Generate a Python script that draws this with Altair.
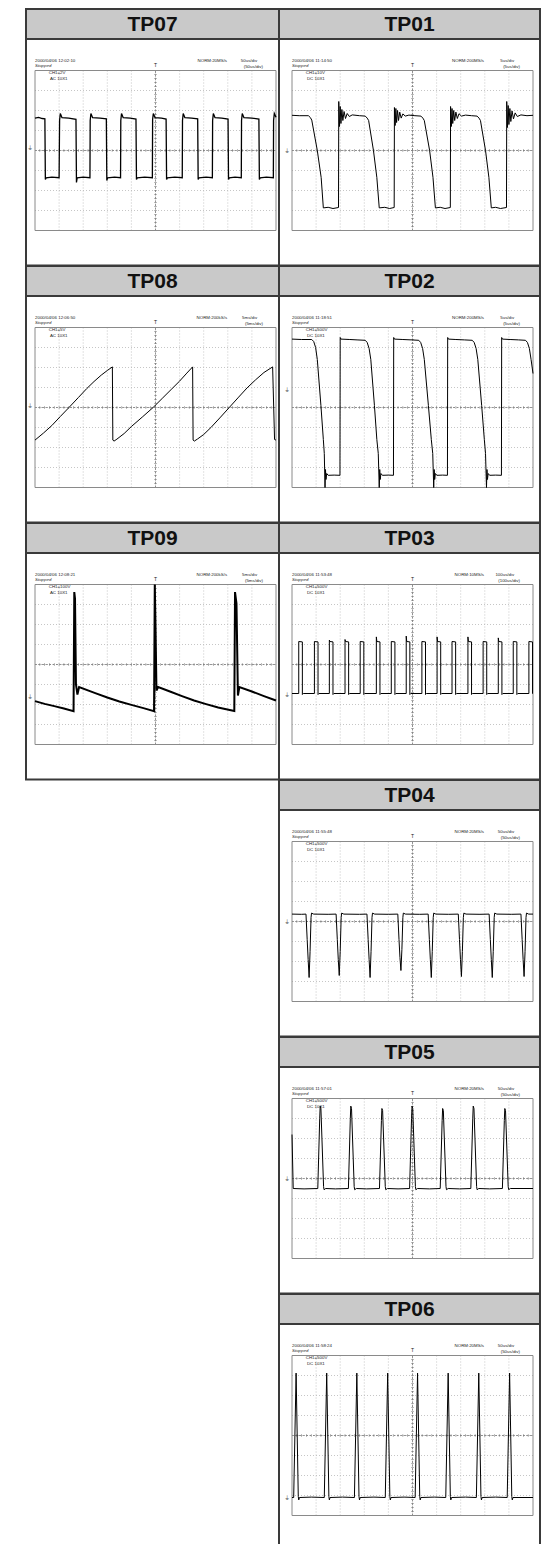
import altair as alt
import pandas as pd

# ---------------- data ----------------
left_names = ["TP07", "TP08", "TP09"]
right_names = ["TP01", "TP02", "TP03", "TP04", "TP05", "TP06"]

timestamps = {
    "TP07": "2000/04/06  12:02:10", "TP08": "2000/04/06  12:06:50", "TP09": "2000/04/06  12:08:21",
    "TP01": "2000/04/06  11:14:50", "TP02": "2000/04/06  11:18:51", "TP03": "2000/04/06  11:53:48",
    "TP04": "2000/04/06  11:55:48", "TP05": "2000/04/06  11:57:01", "TP06": "2000/04/06  11:58:24",
}
sample_rates = {
    "TP07": "NORM:20MS/s", "TP08": "NORM:200kS/s", "TP09": "NORM:200kS/s",
    "TP01": "NORM:200MS/s", "TP02": "NORM:200MS/s", "TP03": "NORM:10MS/s",
    "TP04": "NORM:20MS/s", "TP05": "NORM:20MS/s", "TP06": "NORM:20MS/s",
}
timebases = {
    "TP07": "50us/div", "TP08": "5ms/div", "TP09": "5ms/div",
    "TP01": "5us/div", "TP02": "5us/div", "TP03": "100us/div",
    "TP04": "50us/div", "TP05": "50us/div", "TP06": "50us/div",
}
channels = {
    "TP07": "CH1=2V", "TP08": "CH1=5V", "TP09": "CH1=100V",
    "TP01": "CH1=10V", "TP02": "CH1=500V", "TP03": "CH1=500V",
    "TP04": "CH1=500V", "TP05": "CH1=500V", "TP06": "CH1=500V",
}
couplings = {
    "TP07": "AC  10X1", "TP08": "AC  10X1", "TP09": "AC  10X1",
    "TP01": "DC  10X1", "TP02": "DC  10X1", "TP03": "DC  10X1",
    "TP04": "DC  10X1", "TP05": "DC  10X1", "TP06": "DC  10X1",
}
ground_levels = {
    "TP07": 0.15, "TP08": 0.1, "TP09": -1.6, "TP01": 0.0, "TP02": 0.9,
    "TP03": -1.5, "TP04": -0.03, "TP05": 0.0, "TP06": -3.1,
}

# waveforms: (time in divisions 0..10, level in divisions -4..4)
tp07 = [(0.00, 1.62), (0.15, 1.66), (0.30, 1.60), (0.41, 1.58),
        (0.43, -1.45), (0.46, -1.37), (0.70, -1.33), (1.00, -1.36),
        (1.02, 1.50), (1.05, 1.85), (1.12, 1.64), (1.40, 1.62), (1.70, 1.56),
        (1.72, -1.60), (1.75, -1.37), (2.00, -1.33), (2.28, -1.36),
        (2.29, 1.50), (2.32, 1.85), (2.39, 1.64), (2.70, 1.62), (2.96, 1.58),
        (2.98, -1.50), (3.01, -1.37), (3.30, -1.33), (3.55, -1.36),
        (3.56, 1.50), (3.59, 1.85), (3.66, 1.64), (3.95, 1.62), (4.19, 1.57),
        (4.21, -1.45), (4.24, -1.37), (4.55, -1.33), (4.87, -1.36),
        (4.88, 1.55), (4.91, 1.85), (4.98, 1.64), (5.25, 1.62), (5.44, 1.57),
        (5.46, -1.45), (5.49, -1.37), (5.80, -1.33), (6.11, -1.36),
        (6.12, 1.50), (6.15, 1.85), (6.22, 1.64), (6.50, 1.62), (6.75, 1.58),
        (6.77, -1.45), (6.80, -1.37), (7.10, -1.33), (7.36, -1.36),
        (7.37, 1.50), (7.40, 1.85), (7.47, 1.64), (7.75, 1.62), (8.01, 1.57),
        (8.03, -1.45), (8.06, -1.37), (8.30, -1.33), (8.56, -1.36),
        (8.57, 1.50), (8.60, 1.85), (8.67, 1.64), (9.00, 1.62), (9.29, 1.57),
        (9.31, -1.45), (9.34, -1.37), (9.60, -1.33), (9.89, -1.36),
        (9.90, 1.50), (9.93, 1.85), (10.0, 1.66)]

tp08 = [(0.00, -1.63), (0.35, -1.28), (0.70, -0.90), (1.05, -0.45), (1.41, 0.00), (1.80, 0.50),
        (2.15, 0.95), (2.45, 1.30), (2.75, 1.62), (3.00, 1.85), (3.21, 2.03),
        (3.23, -1.63), (3.28, -1.68), (3.40, -1.58), (3.70, -1.30), (4.00, -0.95), (4.45, -0.48),
        (4.90, 0.00), (5.30, 0.48), (5.65, 0.90), (6.00, 1.32), (6.30, 1.72), (6.54, 2.03),
        (6.56, -1.63), (6.61, -1.68), (6.75, -1.57), (7.00, -1.35), (7.30, -1.00), (7.70, -0.48),
        (8.06, 0.00), (8.45, 0.52), (8.80, 0.98), (9.15, 1.38), (9.50, 1.75), (9.86, 2.03),
        (9.94, -1.60), (10.0, -1.63)]

tp09 = [(0.00, -1.83), (0.40, -1.97), (0.80, -2.08), (1.20, -2.20), (1.60, -2.33),
        (1.63, 3.62), (1.66, 3.30), (1.70, -1.00), (1.76, -1.50), (1.83, -1.13),
        (2.50, -1.43), (3.00, -1.65), (3.50, -1.85), (4.00, -2.02), (4.50, -2.18), (4.94, -2.33),
        (4.97, 4.00), (5.00, 2.00), (5.04, -1.30), (5.11, -1.13),
        (5.60, -1.35), (6.10, -1.58), (6.60, -1.80), (7.10, -1.98), (7.60, -2.15), (8.27, -2.33),
        (8.30, 3.62), (8.36, 3.05), (8.42, -1.55), (8.48, -1.13),
        (9.00, -1.35), (9.50, -1.58), (10.0, -1.80)]

tp01 = [(0.00, 1.76), (0.30, 1.74), (0.68, 1.74), (0.76, 1.65), (0.82, 1.52), (1.05, 0.0),
        (1.21, -1.35), (1.30, -2.87), (1.50, -2.84), (1.70, -2.90), (1.93, -2.85),
        (1.94, 2.45), (1.97, 1.20), (2.00, 2.20), (2.03, 1.35), (2.07, 2.05), (2.11, 1.50),
        (2.16, 1.95), (2.22, 1.60), (2.29, 1.85), (2.38, 1.70), (2.50, 1.78), (2.80, 1.74), (3.04, 1.72),
        (3.12, 1.62), (3.18, 1.50), (3.38, 0.0), (3.52, -1.35), (3.62, -2.87),
        (3.85, -2.84), (4.05, -2.90), (4.24, -2.85),
        (4.25, 2.15), (4.28, 1.25), (4.31, 2.10), (4.34, 1.40), (4.38, 2.00), (4.42, 1.50),
        (4.47, 1.92), (4.53, 1.62), (4.60, 1.83), (4.70, 1.72), (4.85, 1.77), (5.10, 1.74), (5.35, 1.72),
        (5.43, 1.62), (5.49, 1.50), (5.71, 0.0), (5.85, -1.35), (5.95, -2.87),
        (6.15, -2.84), (6.35, -2.90), (6.57, -2.85),
        (6.58, 2.20), (6.61, 1.20), (6.64, 2.10), (6.67, 1.35), (6.71, 2.00), (6.75, 1.50),
        (6.80, 1.92), (6.86, 1.60), (6.93, 1.84), (7.03, 1.72), (7.20, 1.77), (7.45, 1.74), (7.68, 1.72),
        (7.76, 1.62), (7.82, 1.50), (8.03, 0.0), (8.17, -1.35), (8.27, -2.87),
        (8.45, -2.84), (8.65, -2.90), (8.90, -2.85),
        (8.91, 2.45), (8.94, 1.15), (8.97, 2.25), (9.00, 1.30), (9.04, 2.10), (9.08, 1.45),
        (9.13, 1.98), (9.19, 1.58), (9.26, 1.88), (9.35, 1.70), (9.50, 1.78), (9.75, 1.74), (10.0, 1.76)]

tp02 = [(0.00, 3.42), (0.40, 3.40), (0.82, 3.40), (0.90, 3.30), (0.98, 3.00), (1.05, 2.40),
        (1.20, 0.10), (1.30, -1.60), (1.34, -2.30), (1.37, -4.00), (1.39, -3.10), (1.41, -3.60),
        (1.44, -3.30), (1.50, -3.39), (1.75, -3.38), (1.99, -3.39),
        (2.00, 3.50), (2.03, 3.42), (2.40, 3.40), (2.70, 3.38), (3.04, 3.36), (3.12, 3.25),
        (3.20, 2.95), (3.27, 2.40), (3.42, 0.10), (3.52, -1.60), (3.58, -2.30), (3.62, -4.00),
        (3.64, -3.10), (3.66, -3.60), (3.69, -3.30), (3.75, -3.39), (4.00, -3.38), (4.21, -3.39),
        (4.22, 3.50), (4.25, 3.42), (4.60, 3.40), (4.95, 3.38), (5.26, 3.36), (5.34, 3.25),
        (5.42, 2.95), (5.49, 2.40), (5.66, 0.10), (5.78, -1.60), (5.84, -2.30), (5.88, -4.00),
        (5.90, -3.10), (5.92, -3.60), (5.95, -3.30), (6.01, -3.39), (6.25, -3.38), (6.45, -3.39),
        (6.46, 3.50), (6.49, 3.42), (6.80, 3.40), (7.15, 3.38), (7.48, 3.36), (7.56, 3.25),
        (7.64, 2.95), (7.71, 2.40), (7.87, 0.10), (7.98, -1.60), (8.03, -2.30), (8.07, -4.00),
        (8.09, -3.10), (8.11, -3.60), (8.14, -3.30), (8.20, -3.39), (8.45, -3.38), (8.69, -3.39),
        (8.70, 3.50), (8.73, 3.42), (9.05, 3.40), (9.40, 3.38), (9.69, 3.36), (9.77, 3.25),
        (9.85, 2.95), (9.92, 2.40), (10.0, 1.70)]

tp03 = [(0.00, -1.45), (0.28, -1.45), (0.28, 1.15), (0.43, 1.13), (0.43, -1.50), (0.47, -1.45),
        (0.93, -1.45), (0.93, 1.15), (1.08, 1.13), (1.08, -1.50), (1.12, -1.45),
        (1.55, -1.45), (1.55, 1.22), (1.57, 1.15), (1.70, 1.13), (1.70, -1.50), (1.74, -1.45),
        (2.20, -1.45), (2.20, 1.25), (2.22, 1.15), (2.35, 1.13), (2.35, -1.50), (2.39, -1.45),
        (2.83, -1.45), (2.83, 1.15), (2.98, 1.13), (2.98, -1.50), (3.02, -1.45),
        (3.50, -1.45), (3.50, 1.38), (3.52, 1.15), (3.65, 1.13), (3.65, -1.50), (3.69, -1.45),
        (4.12, -1.45), (4.12, 1.15), (4.27, 1.13), (4.27, -1.50), (4.31, -1.45),
        (4.74, -1.45), (4.74, 1.42), (4.76, 1.15), (4.89, 1.13), (4.89, -1.50), (4.93, -1.45),
        (5.39, -1.45), (5.39, 1.15), (5.54, 1.13), (5.54, -1.50), (5.58, -1.45),
        (6.02, -1.45), (6.02, 1.38), (6.04, 1.15), (6.17, 1.13), (6.17, -1.50), (6.21, -1.45),
        (6.64, -1.45), (6.64, 1.15), (6.79, 1.13), (6.79, -1.50), (6.83, -1.45),
        (7.30, -1.45), (7.30, 1.38), (7.32, 1.15), (7.45, 1.13), (7.45, -1.50), (7.49, -1.45),
        (7.93, -1.45), (7.93, 1.15), (8.08, 1.13), (8.08, -1.50), (8.12, -1.45),
        (8.56, -1.45), (8.56, 1.33), (8.58, 1.15), (8.71, 1.13), (8.71, -1.50), (8.75, -1.45),
        (9.18, -1.45), (9.18, 1.15), (9.33, 1.13), (9.33, -1.50), (9.37, -1.45),
        (9.83, -1.45), (9.83, 1.15), (9.98, 1.13), (9.98, -1.45), (10.0, -1.45)]

tp04 = [(0.00, 0.37), (0.40, 0.36),
        (0.58, 0.37), (0.63, -0.90), (0.67, -1.90), (0.71, -2.80), (0.75, -1.50), (0.79, 0.20), (0.81, 0.42), (0.90, 0.37), (1.50, 0.36),
        (1.83, 0.37), (1.88, -0.90), (1.92, -1.90), (1.96, -2.70), (2.00, -1.50), (2.04, 0.20), (2.06, 0.42), (2.15, 0.37), (2.80, 0.36),
        (3.11, 0.37), (3.16, -0.90), (3.20, -1.90), (3.24, -2.80), (3.28, -1.50), (3.32, 0.20), (3.34, 0.42), (3.43, 0.37), (4.00, 0.36),
        (4.39, 0.37), (4.44, -0.90), (4.48, -1.80), (4.52, -2.45), (4.56, -1.40), (4.60, 0.20), (4.62, 0.42), (4.71, 0.37), (5.30, 0.36),
        (5.65, 0.37), (5.70, -0.90), (5.74, -1.90), (5.78, -2.80), (5.82, -1.50), (5.86, 0.20), (5.88, 0.42), (5.97, 0.37), (6.50, 0.36),
        (6.90, 0.37), (6.95, -0.90), (6.99, -1.90), (7.03, -2.75), (7.07, -1.50), (7.11, 0.20), (7.13, 0.42), (7.22, 0.37), (7.80, 0.36),
        (8.18, 0.37), (8.23, -0.90), (8.27, -1.90), (8.31, -2.80), (8.35, -1.50), (8.39, 0.20), (8.41, 0.42), (8.50, 0.37), (9.10, 0.36),
        (9.50, 0.37), (9.55, -0.90), (9.59, -1.90), (9.63, -2.75), (9.67, -1.50), (9.71, 0.20), (9.73, 0.42), (9.82, 0.37), (10.0, 0.37)]

tp05 = [(0.00, 2.20), (0.05, -0.50), (0.50, -0.52),
        (1.07, -0.50), (1.15, 3.00), (1.17, 3.62), (1.20, 3.50), (1.31, -0.40), (1.33, -0.56), (1.40, -0.50), (1.80, -0.52),
        (2.34, -0.50), (2.42, 3.00), (2.44, 3.62), (2.47, 3.50), (2.58, -0.40), (2.60, -0.56), (2.67, -0.50), (3.10, -0.52),
        (3.63, -0.50), (3.71, 2.90), (3.73, 3.50), (3.76, 3.40), (3.87, -0.40), (3.89, -0.56), (3.96, -0.50), (4.40, -0.52),
        (4.88, -0.50), (4.96, 3.00), (4.98, 3.62), (5.01, 3.50), (5.12, -0.40), (5.14, -0.56), (5.21, -0.50), (5.70, -0.52),
        (6.15, -0.50), (6.23, 2.90), (6.25, 3.50), (6.28, 3.40), (6.39, -0.40), (6.41, -0.56), (6.48, -0.50), (6.95, -0.52),
        (7.42, -0.50), (7.50, 3.00), (7.52, 3.62), (7.55, 3.50), (7.66, -0.40), (7.68, -0.56), (7.75, -0.50), (8.20, -0.52),
        (8.73, -0.50), (8.81, 2.90), (8.83, 3.50), (8.86, 3.40), (8.97, -0.40), (8.99, -0.56), (9.06, -0.50), (10.0, -0.50)]

tp06 = [(0.00, -3.10), (0.07, -3.10), (0.17, 3.12), (0.26, -3.05), (0.28, -3.22), (0.31, -3.10), (0.80, -3.08),
        (1.34, -3.10), (1.44, 3.12), (1.53, -3.05), (1.55, -3.22), (1.58, -3.10), (2.10, -3.08),
        (2.59, -3.10), (2.69, 3.12), (2.78, -3.05), (2.80, -3.22), (2.83, -3.10), (3.40, -3.08),
        (3.87, -3.10), (3.97, 3.12), (4.06, -3.05), (4.08, -3.22), (4.11, -3.10), (4.65, -3.08),
        (5.11, -3.10), (5.21, 3.12), (5.30, -3.05), (5.32, -3.22), (5.35, -3.10), (5.90, -3.08),
        (6.38, -3.10), (6.48, 3.12), (6.57, -3.05), (6.59, -3.22), (6.62, -3.10), (7.20, -3.08),
        (7.65, -3.10), (7.75, 3.12), (7.84, -3.05), (7.86, -3.22), (7.89, -3.10), (8.45, -3.08),
        (8.93, -3.10), (9.03, 3.12), (9.12, -3.05), (9.14, -3.22), (9.17, -3.10), (10.0, -3.10)]

waves = {"TP07": tp07, "TP08": tp08, "TP09": tp09, "TP01": tp01, "TP02": tp02,
         "TP03": tp03, "TP04": tp04, "TP05": tp05, "TP06": tp06}

# ---------------- layout / style ----------------
HDR_H = 30
BODY_H = 226.5
LEFT_W = 253
RIGHT_W = 261
PX_X = 24.1      # px per division
PX_Y = 20.0
GRID_TOP = 31.5  # px from body top to grid top
BORDER = "#3a3a3a"
HEAD_FILL = "#c9c9c9"
SMALL_FONT = "Liberation Sans"
HEAD_FONT = "Liberation Sans"
TXT = 4.4
LINE_W = {"TP07": 1.3, "TP09": 2.0}


def header(name, W):
    return alt.Chart(pd.DataFrame({"t": [name]})).mark_text(
        font=HEAD_FONT, fontSize=21, fontWeight="bold", color="#111", baseline="middle", align="center"
    ).encode(text="t:N", x=alt.value(W / 2), y=alt.value(HDR_H / 2 + 1)).properties(
        width=W, height=HDR_H,
        view=alt.ViewBackground(fill=HEAD_FILL, stroke=BORDER, strokeWidth=2),
    )


def blank(W, H):
    return alt.Chart(pd.DataFrame({"s": [""]})).mark_text().encode(text="s:N").properties(
        width=W, height=H,
        view=alt.ViewBackground(fill="transparent", stroke="transparent"),
    )


def body(name, W, gx0):
    sx = alt.Scale(domain=[-gx0 / PX_X, (W - gx0) / PX_X], nice=False, zero=False)
    ytop = 4 + GRID_TOP / PX_Y
    sy = alt.Scale(domain=[ytop - BODY_H / PX_Y, ytop], nice=False, zero=False)
    one = pd.DataFrame({"k": [0]})

    def XD(v):
        return alt.XDatum(v, scale=sx, axis=None)

    def YD(v):
        return alt.YDatum(v, scale=sy, axis=None)

    layers = []
    # dotted division lines
    layers.append(alt.Chart(alt.sequence(1, 10, 1, as_="v")).mark_rule(
        color="#b8b8b8", strokeWidth=0.8, strokeDash=[1, 2]).encode(
        x=alt.X("v:Q", scale=sx, axis=None), y=YD(-4), y2=alt.Y2Datum(4)))
    layers.append(alt.Chart(alt.sequence(-3, 4, 1, as_="v")).mark_rule(
        color="#b8b8b8", strokeWidth=0.8, strokeDash=[1, 2]).encode(
        y=alt.Y("v:Q", scale=sy, axis=None), x=XD(0), x2=alt.X2Datum(10)))
    # centre cross with ticks
    layers.append(alt.Chart(one).mark_rule(color="#7a7a7a", strokeWidth=0.8, strokeDash=[2, 1.5]).encode(
        x=XD(5), y=YD(-4), y2=alt.Y2Datum(4)))
    layers.append(alt.Chart(one).mark_rule(color="#7a7a7a", strokeWidth=0.8, strokeDash=[2, 1.5]).encode(
        y=YD(0), x=XD(0), x2=alt.X2Datum(10)))
    layers.append(alt.Chart(alt.sequence(0.2, 10, 0.2, as_="v")).mark_tick(
        orient="vertical", size=3, thickness=0.7, color="#7a7a7a").encode(
        x=alt.X("v:Q", scale=sx, axis=None), y=YD(0)))
    layers.append(alt.Chart(alt.sequence(-3.8, 4, 0.2, as_="v")).mark_tick(
        orient="horizontal", size=3, thickness=0.7, color="#7a7a7a").encode(
        y=alt.Y("v:Q", scale=sy, axis=None), x=XD(5)))
    # grid frame
    layers.append(alt.Chart(one).mark_rect(fillOpacity=0, stroke="#8a8a8a", strokeWidth=1).encode(
        x=XD(0), x2=alt.X2Datum(10), y=YD(-4), y2=alt.Y2Datum(4)))
    # waveform
    pts = waves[name]
    df = pd.DataFrame({"t": [p[0] for p in pts], "v": [p[1] for p in pts], "i": list(range(len(pts)))})
    layers.append(alt.Chart(df).mark_line(color="#000", strokeWidth=LINE_W.get(name, 1.0)).encode(
        x=alt.X("t:Q", scale=sx, axis=None), y=alt.Y("v:Q", scale=sy, axis=None), order="i:Q"))

    # screen texts
    def txt(s, x, y, align="left", style="normal", size=TXT, font=SMALL_FONT):
        return alt.Chart(pd.DataFrame({"s": [s]})).mark_text(
            align=align, baseline="middle", fontSize=size, font=font, fontStyle=style, color="#222"
        ).encode(text="s:N", x=XD(x), y=YD(y))

    layers.append(txt(timestamps[name], 0, 4.5))
    layers.append(txt("Stopped", 0, 4.22, style="italic"))
    layers.append(txt(sample_rates[name], 7.97, 4.5, align="right"))
    layers.append(txt(timebases[name], 9.22, 4.5, align="right"))
    layers.append(txt("(" + timebases[name] + ")", 9.46, 4.2, align="right"))
    layers.append(txt(channels[name], 0.57, 3.88))
    layers.append(txt(couplings[name], 0.62, 3.6))
    layers.append(txt("T", 5, 4.3, align="center", size=5))
    layers.append(txt("\u23DA", -0.22, ground_levels[name], align="center", size=6, font="DejaVu Sans"))

    return alt.layer(*layers).properties(
        width=W, height=BODY_H,
        view=alt.ViewBackground(fill="white", stroke=BORDER, strokeWidth=2),
    )


units = []
for r in range(len(right_names)):
    if r < len(left_names):
        units.append(header(left_names[r], LEFT_W))
    else:
        units.append(blank(LEFT_W, HDR_H))
    units.append(header(right_names[r], RIGHT_W))
    if r < len(left_names):
        units.append(body(left_names[r], LEFT_W, 9))
    else:
        units.append(blank(LEFT_W, BODY_H))
    units.append(body(right_names[r], RIGHT_W, 13))

chart = alt.concat(*units, columns=2, spacing=0, bounds="flush").properties(
    padding={"left": 17, "top": 0, "right": 4, "bottom": 0}
).configure_view(stroke=None)

chart.save("out.html", embed_options={"renderer": "svg", "actions": False})
